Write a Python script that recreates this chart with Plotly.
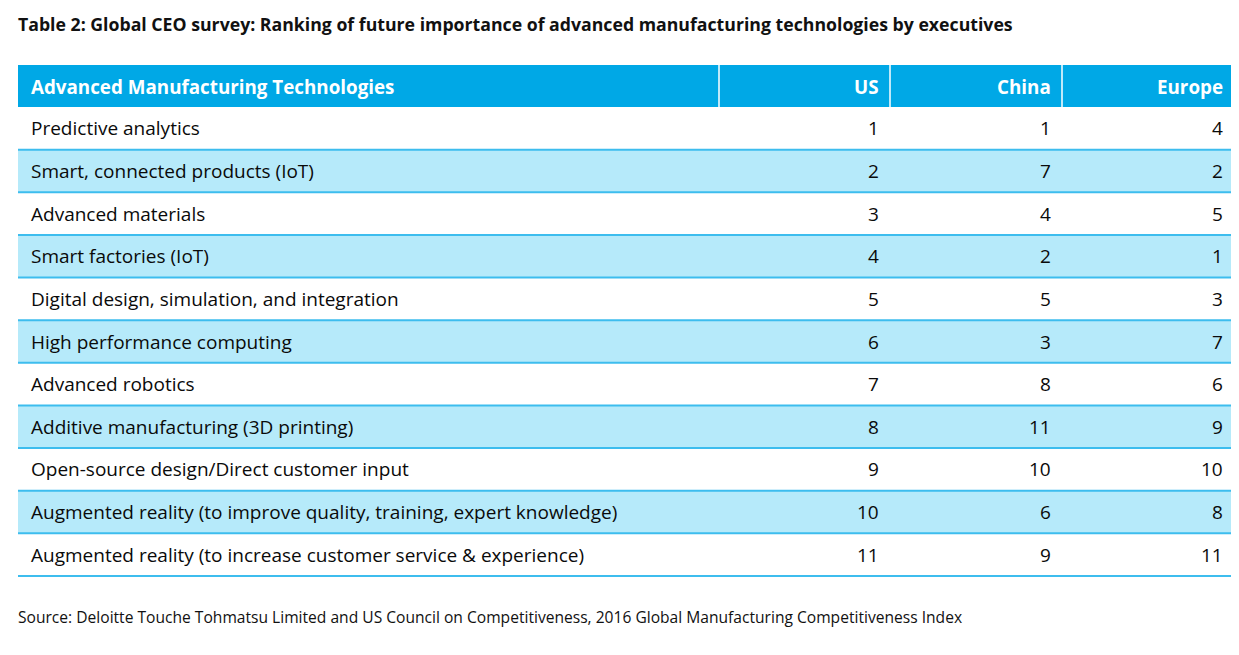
import plotly.graph_objects as go

title = "Table 2: Global CEO survey: Ranking of future importance of advanced manufacturing technologies by executives"
source = "Source: Deloitte Touche Tohmatsu Limited and US Council on Competitiveness, 2016 Global Manufacturing Competitiveness Index"

header = ["Advanced Manufacturing Technologies", "US", "China", "Europe"]
technologies = [
    "Predictive analytics",
    "Smart, connected products (IoT)",
    "Advanced materials",
    "Smart factories (IoT)",
    "Digital design, simulation, and integration",
    "High performance computing",
    "Advanced robotics",
    "Additive manufacturing (3D printing)",
    "Open-source design/Direct customer input",
    "Augmented reality (to improve quality, training, expert knowledge)",
    "Augmented reality (to increase customer service & experience)",
]
us_rank = [1, 2, 3, 4, 5, 6, 7, 8, 9, 10, 11]
china_rank = [1, 7, 4, 2, 5, 3, 8, 11, 10, 6, 9]
europe_rank = [4, 2, 5, 1, 3, 7, 6, 9, 10, 8, 11]

W, H = 1239, 655
OFF = 8  # page body margin, so axis units line up with window pixels
FONT = "Open Sans"
HEAD_BLUE = "#00a8e6"
BAND = "#b6eafa"
RULE = "#3dbdee"

col_edges = [18, 719, 890, 1062, 1234]
head_top, head_bot = 65, 107
row_h = (576 - head_bot) / len(technologies)
pad_l, pad_r = 11, 9

fig = go.Figure()
shapes = []
ann = []

# header band
shapes.append(dict(type="rect", xref="x", yref="y", x0=col_edges[0], x1=col_edges[-1],
                   y0=head_top, y1=head_bot, fillcolor=HEAD_BLUE, line_width=0, layer="below"))
for x in col_edges[1:-1]:
    shapes.append(dict(type="line", xref="x", yref="y", x0=x, x1=x, y0=head_top, y1=head_bot,
                       line=dict(color="white", width=1.5)))
for j, h in enumerate(header):
    if j == 0:
        x, xa = col_edges[0] + pad_l, "left"
    else:
        x, xa = col_edges[j + 1] - pad_r, "right"
    ann.append(dict(x=x, y=(head_top + head_bot) / 2 + 1, text="<b>" + h + "</b>", xanchor=xa,
                    xref="x", yref="y", yanchor="middle", showarrow=False,
                    font=dict(family=FONT, size=18.8, color="white")))

# body rows
for i, tech in enumerate(technologies):
    y0 = head_bot + i * row_h
    y1 = y0 + row_h
    if i % 2 == 1:
        shapes.append(dict(type="rect", xref="x", yref="y", x0=col_edges[0], x1=col_edges[-1],
                           y0=y0, y1=y1, fillcolor=BAND, line_width=0, layer="below"))
    shapes.append(dict(type="line", xref="x", yref="y", x0=col_edges[0], x1=col_edges[-1],
                       y0=y1, y1=y1, line=dict(color=RULE, width=2)))
    yc = (y0 + y1) / 2
    cells = [tech, us_rank[i], china_rank[i], europe_rank[i]]
    for j, c in enumerate(cells):
        if j == 0:
            x, xa = col_edges[0] + pad_l, "left"
        else:
            x, xa = col_edges[j + 1] - pad_r, "right"
        ann.append(dict(x=x, y=yc, text=str(c), xanchor=xa, yanchor="middle", xref="x", yref="y",
                        showarrow=False, font=dict(family=FONT, size=19, color="#0a0a0a")))

ann.append(dict(x=16, y=24, text="<b>" + title + "</b>", xanchor="left", yanchor="middle",
                xref="x", yref="y", showarrow=False, font=dict(family=FONT, size=17.7, color="#111111")))
ann.append(dict(x=16, y=617, text=source, xanchor="left", yanchor="middle",
                xref="x", yref="y", showarrow=False, font=dict(family=FONT, size=15.6, color="#111111")))

fig.update_layout(
    width=W, height=H,
    margin=dict(l=0, r=0, t=0, b=0),
    paper_bgcolor="white", plot_bgcolor="white",
    xaxis=dict(range=[OFF, W + OFF], visible=False, fixedrange=True),
    yaxis=dict(range=[H + OFF, OFF], visible=False, fixedrange=True),
    shapes=shapes, annotations=ann, showlegend=False,
)

fig.write_html("out.html")
